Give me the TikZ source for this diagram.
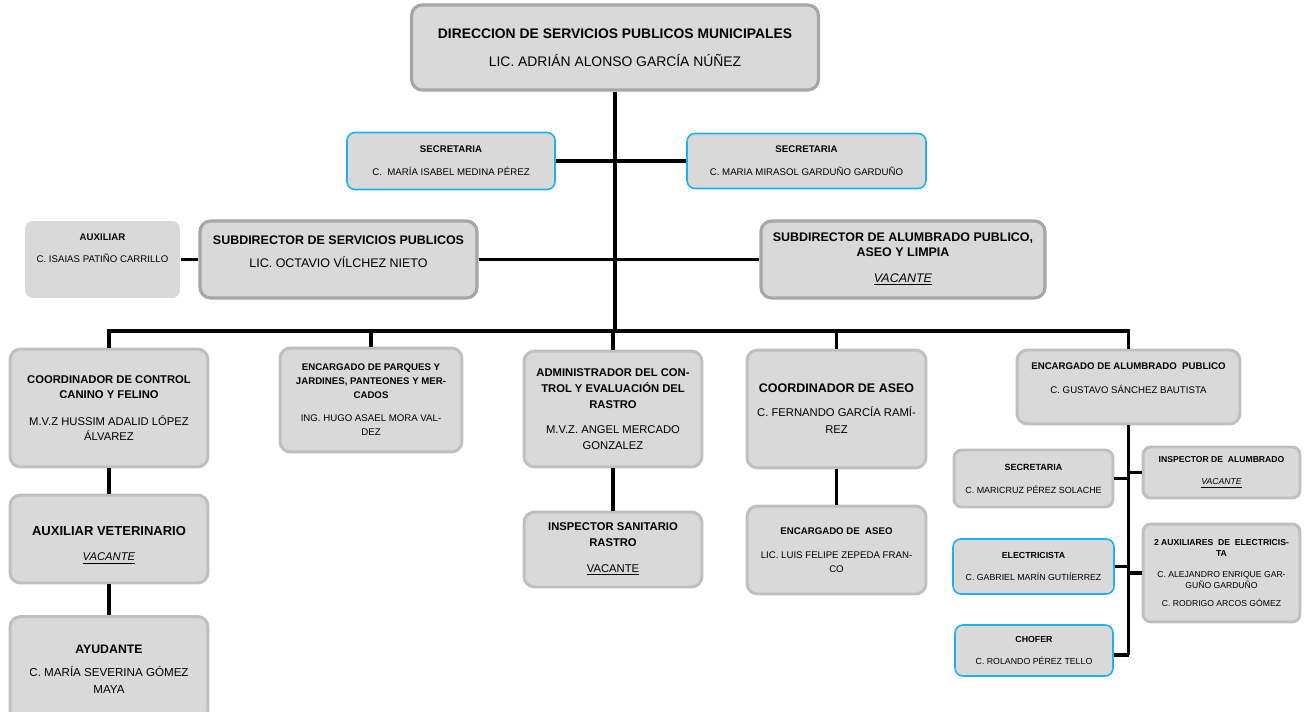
\documentclass[tikz,border=0pt]{standalone}
\usepackage{fontspec}
\setmainfont{Liberation Sans}
\definecolor{boxfill}{HTML}{D9D9D9}
\definecolor{boxline}{HTML}{BFBFBF}
\definecolor{headline}{HTML}{A6A6A6}
\definecolor{blueline}{HTML}{1CB2EC}
\newcommand{\vacante}{\underline{\textit{VACANTE}}}
\newcommand{\fs}[2]{\fontsize{#1}{#2}\selectfont}
\begin{document}
\begin{tikzpicture}[x=0.02cm, y=-0.02cm,
    box/.style={rectangle, rounded corners=6pt, fill=boxfill, draw=boxline, line width=1.7pt, align=center, inner sep=1pt},
    headbox/.style={box, draw=headline, line width=1.8pt},
    smallbox/.style={box, rounded corners=4.5pt},
    bluebox/.style={smallbox, draw=blueline, line width=0.9pt},
    plainbox/.style={smallbox, draw=none},
    link/.style={line width=1.9pt}
]
    \useasboundingbox (0,0) rectangle (1304,712);

    % Direccion
    \node[headbox, minimum width=8.14cm, minimum height=1.7cm, font=\fs{7.9}{9.5}] (dir) at (615,47.5)
        {\textbf{DIRECCION DE SERVICIOS PUBLICOS MUNICIPALES}\\[6.5pt]LIC. ADRIÁN ALONSO GARCÍA NÚÑEZ};

    % Secretarias
    \node[bluebox, minimum width=4.16cm, minimum height=1.14cm, font=\fs{5.5}{6.6}] (secA) at (451,161)
        {\textbf{SECRETARIA}\\[6.4pt]C.~ MARÍA ISABEL MEDINA PÉREZ};
    \node[bluebox, minimum width=4.78cm, minimum height=1.1cm, font=\fs{5.5}{6.6}] (secB) at (806.5,161)
        {\textbf{SECRETARIA}\\[6.4pt]C. MARIA MIRASOL GARDUÑO GARDUÑO};

    % Subdirecciones
    \node[plainbox, minimum width=3.1cm, minimum height=1.54cm, font=\fs{5.5}{6.6}] (aux) at (102.5,259.5)
        {\textbf{AUXILIAR}\\[5.9pt]C. ISAIAS PATIÑO CARRILLO\\[6pt]};
    \node[headbox, minimum width=5.54cm, minimum height=1.54cm, font=\fs{7.1}{8.5}] (subSP) at (338.5,259.5)
        {\textbf{SUBDIRECTOR DE SERVICIOS PUBLICOS}\\[4.5pt]LIC. OCTAVIO VÍLCHEZ NIETO\\[0pt]};
    \node[headbox, minimum width=5.68cm, minimum height=1.54cm, font=\fs{7.1}{8.5}] (subAP) at (903,259.5)
        {\textbf{SUBDIRECTOR DE ALUMBRADO PUBLICO,}\\\textbf{ASEO Y LIMPIA}\\[6pt]\vacante};

    % Coordinaciones
    \node[box, minimum width=3.96cm, minimum height=2.36cm, font=\fs{6.4}{8.5}] (canino) at (109,408)
        {\textbf{COORDINADOR DE CONTROL}\\\textbf{CANINO Y FELINO}\\[7pt]M.V.Z HUSSIM ADALID LÓPEZ\\ÁLVAREZ};
    \node[box, minimum width=3.64cm, minimum height=2.08cm, font=\fs{5.5}{8}] (parques) at (371,400)
        {\textbf{ENCARGADO DE PARQUES Y}\\\textbf{JARDINES, PANTEONES Y MER-}\\\textbf{CADOS}\\[5pt]ING. HUGO ASAEL MORA VAL-\\DEZ};
    \node[box, minimum width=3.56cm, minimum height=2.32cm, font=\fs{6.4}{9.2}] (admin) at (613,409)
        {\textbf{ADMINISTRADOR DEL CON-}\\\textbf{TROL Y EVALUACIÓN DEL}\\\textbf{RASTRO}\\[5pt]M.V.Z. ANGEL MERCADO\\GONZALEZ};
    \node[box, minimum width=3.58cm, minimum height=2.36cm, font=\fs{6.4}{9.6}] (aseo) at (836.5,409)
        {{\fs{7.1}{9.6}\textbf{COORDINADOR DE ASEO}}\\[4pt]C. FERNANDO GARCÍA RAMÍ-\\REZ};
    \node[box, minimum width=4.46cm, minimum height=1.48cm, font=\fs{5.5}{6.6}] (alumb) at (1128.5,387)
        {\textbf{ENCARGADO DE ALUMBRADO~ PUBLICO}\\[7pt]C. GUSTAVO SÁNCHEZ BAUTISTA\\[4pt]};

    % Segundo nivel
    \node[box, minimum width=3.96cm, minimum height=1.76cm, font=\fs{7.4}{8.9}] (auxvet) at (109,539)
        {\mbox{}\\[3.5pt]\textbf{AUXILIAR VETERINARIO}\\[5.5pt]{\fs{6.4}{7.7}\vacante}};
    \node[box, minimum width=3.56cm, minimum height=1.5cm, font=\fs{6.4}{9}] (inspsan) at (613,549.5)
        {\textbf{INSPECTOR SANITARIO}\\\textbf{RASTRO}\\[5.5pt]\underline{VACANTE}};
    \node[box, minimum width=3.58cm, minimum height=1.76cm, font=\fs{5.5}{8}] (encaseo) at (836.5,550)
        {\textbf{ENCARGADO DE~ ASEO}\\[5.7pt]LIC. LUIS FELIPE ZEPEDA FRAN-\\CO};
    \node[box, minimum width=3.96cm, minimum height=2.1cm, font=\fs{6.6}{9.6}] (ayud) at (109,669)
        {{\fs{7}{9.6}\textbf{AYUDANTE}}\\[3.5pt]C. MARÍA SEVERINA GÓMEZ\\MAYA};

    % Alumbrado publico
    \node[smallbox, minimum width=3.18cm, minimum height=1.14cm, font=\fs{5.1}{6.2}] (secC) at (1033.5,478.5)
        {\textbf{SECRETARIA}\\[6.8pt]C. MARICRUZ PÉREZ SOLACHE};
    \node[smallbox, minimum width=3.14cm, minimum height=1.02cm, font=\fs{4.9}{6}] (inspal) at (1221.5,472.5)
        {\textbf{INSPECTOR DE~ ALUMBRADO}\\[6.5pt]\vacante};
    \node[bluebox, minimum width=3.22cm, minimum height=1.1cm, font=\fs{5}{6}] (elec) at (1033.5,566.5)
        {\textbf{ELECTRICISTA}\\[6.5pt]C. GABRIEL MARÍN GUTIÍERREZ};
    \node[smallbox, minimum width=3.14cm, minimum height=1.96cm, font=\fs{4.9}{6.1}] (auxel) at (1221.5,573)
        {\textbf{2 AUXILIARES~ DE~ ELECTRICIS-}\\\textbf{TA}\\[6pt]C. ALEJANDRO ENRIQUE GAR-\\GUÑO GARDUÑO\\[4pt]C. RODRIGO ARCOS GÓMEZ};
    \node[bluebox, minimum width=3.16cm, minimum height=1.02cm, font=\fs{5}{6}] (chofer) at (1034,650.5)
        {\textbf{CHOFER}\\[6pt]C. ROLANDO PÉREZ TELLO};

    % Conexiones
    \coordinate (bar) at (615,331);
    \coordinate (alend) at (1128.5,655);
    \draw[link] (dir.south) -- (bar);
    \draw[link] (secA.east) -- (secB.west);
    \draw[link] (subSP.east) -- (subAP.west);
    \draw[link] (aux.east) -- (subSP.west);
    \draw[link] (canino.north) |- (bar) -| (alumb.north);
    \draw[link] (parques.north) -- (parques.north |- bar);
    \draw[link] (admin.north) -- (admin.north |- bar);
    \draw[link] (aseo.north) -- (aseo.north |- bar);
    \draw[link] (canino.south) -- (auxvet.north);
    \draw[link] (auxvet.south) -- (ayud.north);
    \draw[link] (admin.south) -- (inspsan.north);
    \draw[link] (aseo.south) -- (encaseo.north);
    \draw[link] (alumb.south) -- (alend);
    \draw[link] (secC.east) -- (secC.east -| alend);
    \draw[link] (inspal.west) -- (inspal.west -| alend);
    \draw[link] (elec.east) -- (elec.east -| alend);
    \draw[link] (auxel.west) -- (auxel.west -| alend);
    \draw[link] (alend) -- (alend -| chofer.east);
\end{tikzpicture}
\end{document}
